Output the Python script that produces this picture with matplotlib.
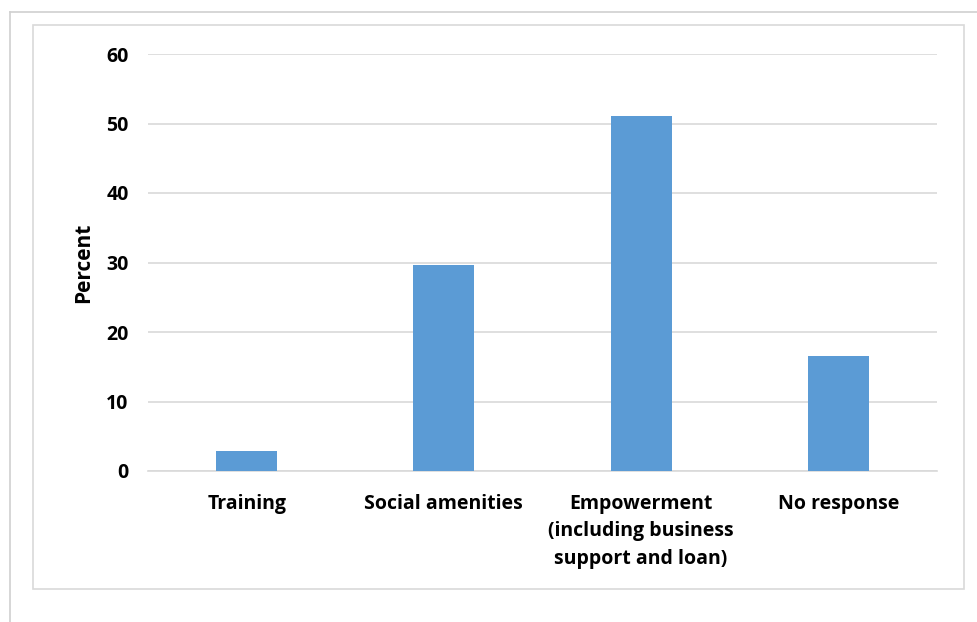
import matplotlib.pyplot as plt
from matplotlib.patches import Rectangle
from matplotlib.lines import Line2D

categories = ['Training', 'Social amenities',
              'Empowerment\n(including business\nsupport and loan)', 'No response']
percent = [2.9, 29.6, 51.1, 16.6]
yticks = [0, 10, 20, 30, 40, 50, 60]

plt.rcParams['font.family'] = ['Open Sans', 'DejaVu Sans']

W, H = 977, 622
fig = plt.figure(figsize=(W / 100, H / 100), dpi=100)

# outer frame (left and top edge only) and chart border
fig.add_artist(Line2D([10 / W, 10 / W], [0, 1 - 12 / H], color='#d0d0d0', lw=1.2,
                      transform=fig.transFigure))
fig.add_artist(Line2D([10 / W, 1], [1 - 12 / H, 1 - 12 / H], color='#d0d0d0', lw=1.2,
                      transform=fig.transFigure))
fig.add_artist(Rectangle((33 / W, 1 - 589 / H), (964 - 33) / W, (589 - 25) / H,
                         fill=False, ec='#d9d9d9', lw=1.2, transform=fig.transFigure))

ax = fig.add_axes([148 / W, 1 - 471 / H, (937 - 148) / W, (471 - 54) / H])
x = range(len(categories))
ax.bar(x, percent, width=0.31, color='#5b9bd5', zorder=3)
ax.set_xlim(-0.5, len(categories) - 0.5)
ax.set_ylim(0, 60)
ax.set_yticks(yticks)
ax.set_xticks(list(x))
ax.set_xticklabels(categories, fontsize=14, fontweight='bold', linespacing=1.5)
ax.tick_params(axis='y', labelsize=14, length=0, pad=14)
ax.tick_params(axis='x', length=0, pad=16.5)
for lab in ax.get_yticklabels():
    lab.set_fontweight('bold')
ax.grid(axis='y', color='#d9d9d9', lw=1.2, zorder=0)
for s in ['top', 'right', 'left']:
    ax.spines[s].set_visible(False)
ax.spines['bottom'].set_color('#d9d9d9')
ax.spines['bottom'].set_linewidth(1.2)
ax.set_ylabel('Percent', fontsize=15, fontweight='bold', labelpad=9)

fig.savefig('out.png', dpi=100)
